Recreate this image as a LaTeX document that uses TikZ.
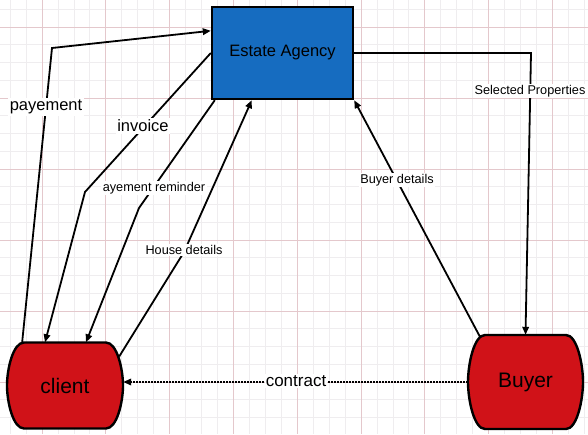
\documentclass[tikz,border=0pt]{standalone}
\usepackage{fontspec}
\setmainfont{Liberation Sans}
\usetikzlibrary{arrows.meta,calc}
\definecolor{agencyblue}{RGB}{22,108,192}
\definecolor{actorred}{RGB}{208,18,24}
\definecolor{gridmajor}{RGB}{228,200,204}
\definecolor{gridminor}{RGB}{239,237,239}
\tikzset{
  agencybox/.style={draw=black, line width=2.4pt, fill=agencyblue, minimum width=141pt, minimum height=92pt, inner sep=0pt, font=\fontsize{16.5}{19}\selectfont},
  actor/.style={inner sep=0pt, font=\fontsize{21}{24}\selectfont},
  pics/barrel/.style 2 args={code={
    \draw[line width=2.4pt, fill=actorred]
      (-#1+17,-#2) -- (#1-17,-#2)
      .. controls (#1-6,-#2) and (#1,-#2*0.38) .. (#1,0)
      .. controls (#1,#2*0.38) and (#1-6,#2) .. (#1-17,#2)
      -- (-#1+17,#2)
      .. controls (-#1+6,#2) and (-#1,#2*0.38) .. (-#1,0)
      .. controls (-#1,-#2*0.38) and (-#1+6,-#2) .. cycle;
  }},
  flow/.style={draw=black, line width=1.8pt, -{Triangle[length=8pt,width=6.5pt]}},
  dotflow/.style={flow, dash pattern=on 1.6pt off 1.4pt},
  biglabel/.style={fill=white, inner sep=1.5pt, font=\fontsize{16.5}{19}\selectfont},
  smalllabel/.style={fill=white, inner sep=1.5pt, font=\fontsize{12.7}{15}\selectfont},
}
\begin{document}
\begin{tikzpicture}[x=1pt,y=-1pt]
\useasboundingbox (0,0) rectangle (588,434);
\fill[white] (0,0) rectangle (588,434);
% grid
\foreach \i in {-2,...,34} \draw[gridminor, line width=0.8pt] ({42+\i*15.95},0) -- ({42+\i*15.95},434);
\foreach \j in {-1,...,23} \draw[gridminor, line width=0.8pt] (0,{27+\j*17.75}) -- (588,{27+\j*17.75});
\foreach \i in {0,...,8} \draw[gridmajor, line width=1pt] ({42+\i*63.8},0) -- ({42+\i*63.8},434);
\foreach \j in {0,...,5} \draw[gridmajor, line width=1pt] (0,{27+\j*71}) -- (588,{27+\j*71});
% nodes
\node[agencybox] (ea) at (282.5,53) {Estate Agency};
\pic at (65,385.5) {barrel={58}{43}};
\node[actor, minimum width=116pt, minimum height=86pt] (cl) at (65,385.5) {client};
\pic at (525.5,382) {barrel={57.5}{47}};
\node[actor, minimum width=115pt, minimum height=94pt] (bu) at (525.5,382) {Buyer};
% bend points
\coordinate (p1) at (52,48);
\coordinate (i1) at (85,192);
\coordinate (r1) at (139,208);
\coordinate (h1) at (184,252);
\coordinate (s1) at (531,53);
% connectors
\draw[flow] ($(cl.north)+(-43,1.5)$) -- (p1) -- ($(ea.north west)+(0,25)$);
\draw[flow] (ea.west) -- (i1) -- ($(cl.north)+(-20,0)$);
\draw[flow] ($(ea.south west)+(4,0)$) -- (r1) -- ($(cl.north)+(21,0)$);
\draw[flow] ($(cl.east)+(-4,-29)$) -- (h1) -- ($(ea.south west)+(41,0)$);
\draw[flow] ($(bu.north)+(-45,3)$) -- (ea.south east);
\draw[flow] (ea.east) -- (s1) -- (bu.north);
\draw[dotflow] (bu.west) -- (bu.west -| cl.east);
% labels
\node[biglabel] (lpay) at (46,107) {payement};
\node[biglabel] (linv) at (143,126) {invoice};
\node[smalllabel] (lrem) at (154,188) {ayement reminder};
\node[smalllabel] (lhouse) at (184,250) {House details};
\node[smalllabel] (lbuyer) at (397,180) {Buyer details};
\node[smalllabel] (lsel) at (530,91) {Selected Properties};
\node[biglabel, font=\fontsize{17}{20}\selectfont, inner sep=1pt] (lcon) at (296,381) {contract};
\end{tikzpicture}
\end{document}
